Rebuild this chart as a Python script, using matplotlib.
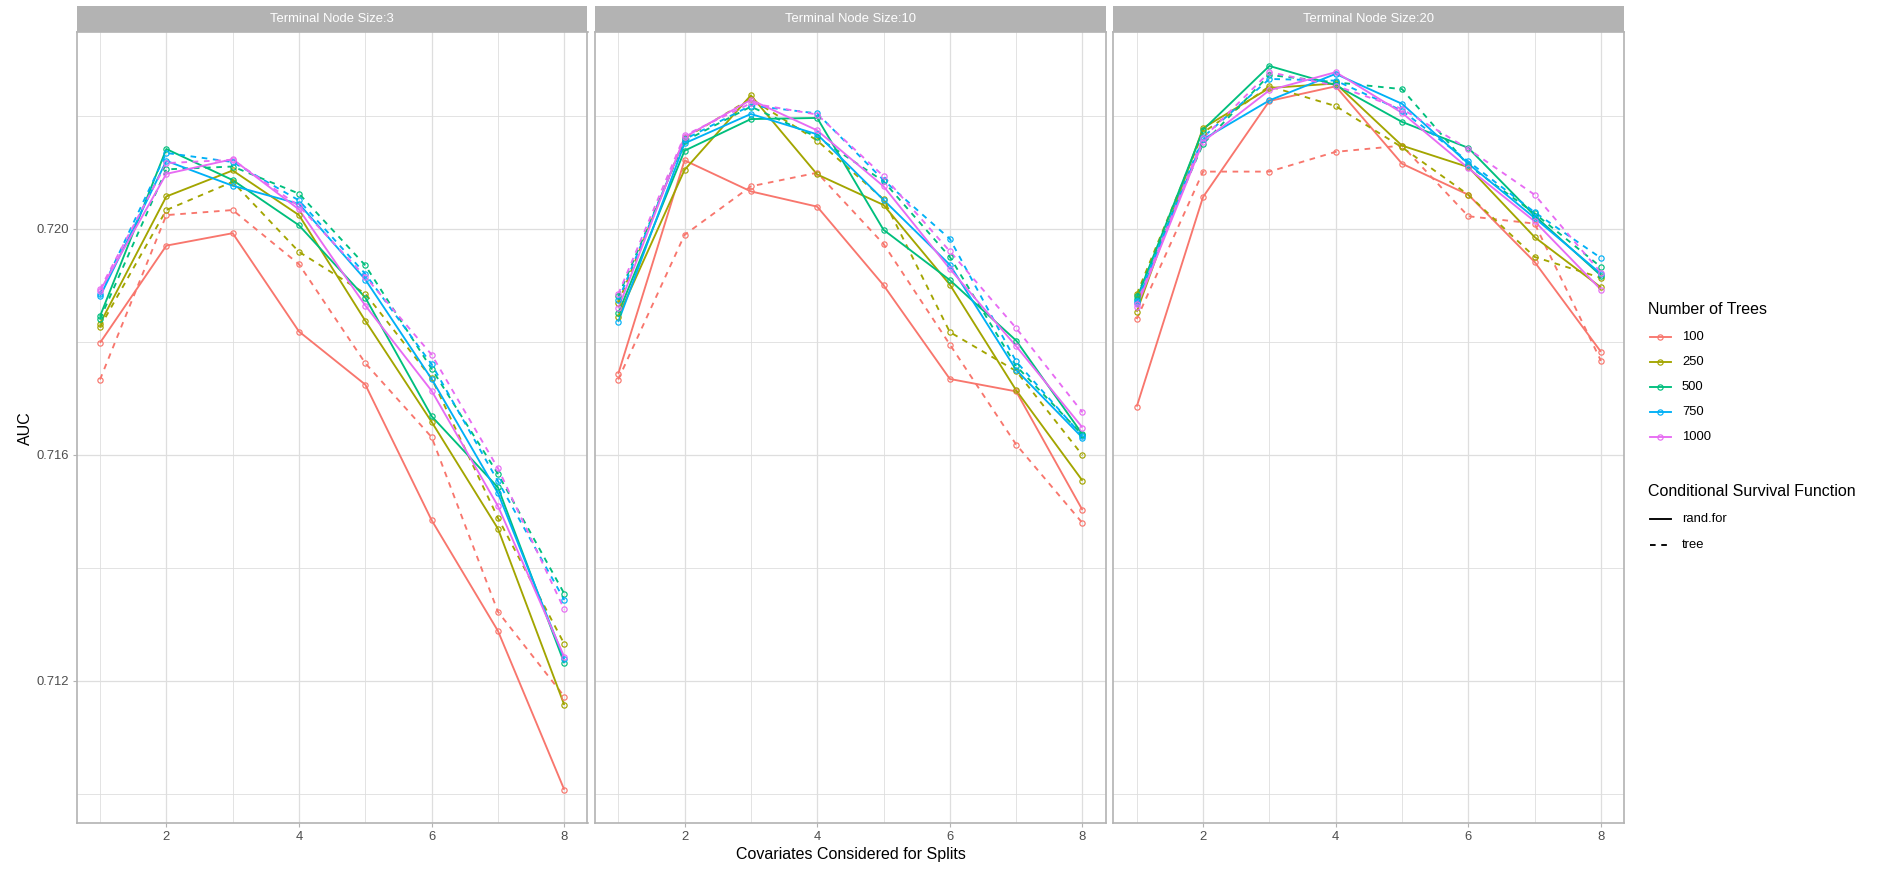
import matplotlib
matplotlib.use("Agg")
import matplotlib.pyplot as plt
from matplotlib.lines import Line2D
from matplotlib.patches import Rectangle
from matplotlib.ticker import FixedLocator, FormatStrFormatter

plt.rcParams['font.family'] = ['Liberation Sans', 'DejaVu Sans']

# ---- data -------------------------------------------------------------
covariates = [1, 2, 3, 4, 5, 6, 7, 8]
tree_counts = ["100", "250", "500", "750", "1000"]
tree_colors = ["#F8766D", "#A3A500", "#00BF7D", "#00B0F6", "#E76BF3"]
node_sizes = [3, 10, 20]
survival_functions = ["rand.for", "tree"]

# rows follow tree_counts, columns follow covariates
auc_node3_randfor = [
    [0.71798, 0.71970, 0.71992, 0.71818, 0.71724, 0.71484, 0.71288, 0.71007],
    [0.71832, 0.72057, 0.72103, 0.72024, 0.71837, 0.71658, 0.71469, 0.71157],
    [0.71845, 0.72141, 0.72086, 0.72006, 0.71878, 0.71668, 0.71542, 0.71231],
    [0.71880, 0.72120, 0.72076, 0.72044, 0.71910, 0.71734, 0.71532, 0.71238],
    [0.71890, 0.72097, 0.72123, 0.72034, 0.71864, 0.71713, 0.71509, 0.71242],
]
auc_node3_tree = [
    [0.71733, 0.72024, 0.72033, 0.71937, 0.71762, 0.71631, 0.71322, 0.71172],
    [0.71826, 0.72033, 0.72083, 0.71959, 0.71885, 0.71735, 0.71488, 0.71265],
    [0.71840, 0.72105, 0.72110, 0.72062, 0.71935, 0.71752, 0.71566, 0.71354],
    [0.71885, 0.72134, 0.72118, 0.72050, 0.71920, 0.71760, 0.71553, 0.71343],
    [0.71893, 0.72116, 0.72122, 0.72040, 0.71915, 0.71777, 0.71576, 0.71326],
]
auc_node10_randfor = [
    [0.71743, 0.72121, 0.72066, 0.72039, 0.71900, 0.71734, 0.71712, 0.71502],
    [0.71844, 0.72104, 0.72236, 0.72096, 0.72042, 0.71901, 0.71714, 0.71554],
    [0.71850, 0.72138, 0.72194, 0.72196, 0.71998, 0.71909, 0.71802, 0.71636],
    [0.71835, 0.72151, 0.72203, 0.72167, 0.72051, 0.71936, 0.71750, 0.71630],
    [0.71859, 0.72162, 0.72228, 0.72174, 0.72075, 0.71929, 0.71792, 0.71648],
]
auc_node10_tree = [
    [0.71733, 0.71989, 0.72075, 0.72099, 0.71973, 0.71795, 0.71618, 0.71479],
    [0.71868, 0.72160, 0.72230, 0.72156, 0.72052, 0.71817, 0.71748, 0.71599],
    [0.71880, 0.72155, 0.72216, 0.72162, 0.72084, 0.71950, 0.71757, 0.71635],
    [0.71873, 0.72158, 0.72218, 0.72204, 0.72086, 0.71982, 0.71765, 0.71633],
    [0.71884, 0.72165, 0.72222, 0.72202, 0.72093, 0.71960, 0.71824, 0.71675],
]
auc_node20_randfor = [
    [0.71685, 0.72056, 0.72226, 0.72252, 0.72115, 0.72060, 0.71941, 0.71782],
    [0.71853, 0.72178, 0.72249, 0.72257, 0.72147, 0.72109, 0.71985, 0.71896],
    [0.71876, 0.72175, 0.72288, 0.72254, 0.72189, 0.72143, 0.72023, 0.71917],
    [0.71868, 0.72158, 0.72227, 0.72274, 0.72221, 0.72115, 0.72019, 0.71920],
    [0.71862, 0.72154, 0.72245, 0.72277, 0.72205, 0.72107, 0.72013, 0.71892],
]
auc_node20_tree = [
    [0.71840, 0.72101, 0.72101, 0.72136, 0.72147, 0.72022, 0.72009, 0.71766],
    [0.71884, 0.72170, 0.72252, 0.72217, 0.72144, 0.72060, 0.71950, 0.71913],
    [0.71880, 0.72150, 0.72272, 0.72259, 0.72247, 0.72112, 0.72027, 0.71932],
    [0.71872, 0.72162, 0.72265, 0.72262, 0.72209, 0.72119, 0.72029, 0.71948],
    [0.71866, 0.72160, 0.72277, 0.72253, 0.72212, 0.72141, 0.72060, 0.71922],
]

panels = [
    {"rand.for": auc_node3_randfor, "tree": auc_node3_tree},
    {"rand.for": auc_node10_randfor, "tree": auc_node10_tree},
    {"rand.for": auc_node20_randfor, "tree": auc_node20_tree},
]

y_major = [0.712, 0.716, 0.720]
y_minor = [0.710, 0.714, 0.718, 0.722]
x_major = [2, 4, 6, 8]
x_minor = [1, 3, 5, 7]

# ---- figure layout (pixel helpers) -----------------------------------
W, H = 1881, 871
fig = plt.figure(figsize=(W / 100, H / 100), dpi=100)
fig.patch.set_facecolor("white")


def fx(px):
    return px / W


def fy(py):
    return 1 - py / H


panel_lefts = [76.8, 595.0, 1113.5]
panel_w = 510.7
panel_top, panel_bottom = 32.0, 823.3
panel_h = panel_bottom - panel_top
strip_h = 26.0

line_styles = {"rand.for": "-", "tree": (0, (3, 3))}
LW = 1.35
GREY70 = "#B3B3B3"
GRID = "#DEDEDE"

for k, (left, size, data) in enumerate(zip(panel_lefts, node_sizes, panels)):
    ax = fig.add_axes([fx(left), fy(panel_bottom), panel_w / W, panel_h / H])
    ax.set_facecolor("white")

    # lines first, then the open-circle points on top
    for i, color in enumerate(tree_colors):
        for fn in survival_functions:
            ax.plot(covariates, data[fn][i], color=color, lw=LW,
                    linestyle=line_styles[fn], solid_capstyle="butt",
                    dash_capstyle="butt", zorder=3)
    for i, color in enumerate(tree_colors):
        for fn in survival_functions:
            ax.plot(covariates, data[fn][i], linestyle="none", marker="o",
                    markersize=3.8, markerfacecolor="none",
                    markeredgecolor=color, markeredgewidth=0.85, zorder=4)

    ax.set_xlim(0.65, 8.35)
    ax.set_ylim(0.709476, 0.723481)
    ax.xaxis.set_major_locator(FixedLocator(x_major))
    ax.xaxis.set_minor_locator(FixedLocator(x_minor))
    ax.yaxis.set_major_locator(FixedLocator(y_major))
    ax.yaxis.set_minor_locator(FixedLocator(y_minor))
    ax.yaxis.set_major_formatter(FormatStrFormatter("%.3f"))

    ax.grid(which="major", color=GRID, lw=0.9, zorder=0)
    ax.grid(which="minor", color=GRID, lw=0.6, zorder=0)
    ax.set_axisbelow(True)

    for sp in ax.spines.values():
        sp.set_color(GREY70)
        sp.set_linewidth(1.2)

    ax.tick_params(which="minor", length=0)
    ax.tick_params(which="major", length=2.7, width=0.8, color=GREY70,
                   labelcolor="#4D4D4D", labelsize=9.4, pad=3.2)
    if k > 0:
        ax.tick_params(axis="y", left=False, labelleft=False)

    # facet strip
    sh = strip_h / panel_h
    ax.add_patch(Rectangle((0, 1), 1, sh, transform=ax.transAxes,
                           facecolor=GREY70, edgecolor="none", clip_on=False,
                           zorder=5))
    ax.text(0.5, 1 + sh / 2, f"Terminal Node Size:{size}",
            transform=ax.transAxes, ha="center", va="center",
            color="white", fontsize=9.4, zorder=6)

# axis titles
fig.text(fx(25), fy((panel_top + panel_bottom) / 2), "AUC", rotation=90,
         ha="center", va="center", fontsize=11.5, color="black")
fig.text(fx(851), fy(854), "Covariates Considered for Splits",
         ha="center", va="center", fontsize=11.5, color="black")

# ---- legends ----------------------------------------------------------
key_x0, key_x1, label_x = 1650, 1671, 1682

fig.text(fx(1648), fy(309), "Number of Trees", ha="left", va="center",
         fontsize=11.5, color="black")
for i, (label, color) in enumerate(zip(tree_counts, tree_colors)):
    yy = 337 + 25 * i
    fig.add_artist(Line2D([fx(key_x0), fx(key_x1)], [fy(yy), fy(yy)],
                          color=color, lw=LW, transform=fig.transFigure))
    fig.add_artist(Line2D([fx((key_x0 + key_x1) / 2)], [fy(yy)],
                          linestyle="none", marker="o", markersize=3.8,
                          markerfacecolor="none", markeredgecolor=color,
                          markeredgewidth=0.85, transform=fig.transFigure))
    fig.text(fx(label_x), fy(yy), label, ha="left", va="center",
             fontsize=9.4, color="black")

fig.text(fx(1648), fy(491), "Conditional Survival Function", ha="left",
         va="center", fontsize=11.5, color="black")
for j, fn in enumerate(survival_functions):
    yy = 519 + 26 * j
    fig.add_artist(Line2D([fx(key_x0), fx(key_x1)], [fy(yy), fy(yy)],
                          color="black", lw=LW, linestyle=line_styles[fn],
                          transform=fig.transFigure))
    fig.text(fx(label_x), fy(yy), fn, ha="left", va="center",
             fontsize=9.4, color="black")

fig.savefig("out.png", dpi=100, facecolor="white")
